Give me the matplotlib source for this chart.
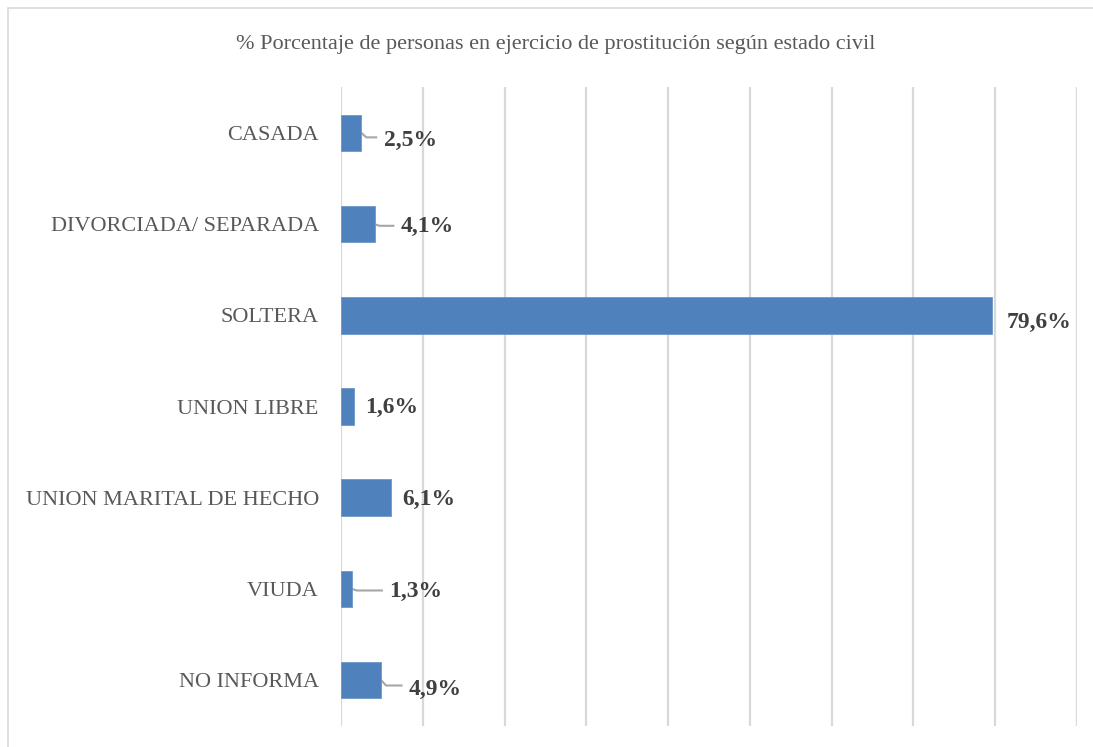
import matplotlib
matplotlib.use("Agg")
import matplotlib.pyplot as plt
from matplotlib.patches import Rectangle

categories = ["CASADA", "DIVORCIADA/ SEPARADA", "SOLTERA", "UNION LIBRE",
              "UNION MARITAL DE HECHO", "VIUDA", "NO INFORMA"]
values = [2.5, 4.1, 79.6, 1.6, 6.1, 1.3, 4.9]
value_labels = ["2,5%", "4,1%", "79,6%", "1,6%", "6,1%", "1,3%", "4,9%"]
title = "% Porcentaje de personas en ejercicio de prostitución según estado civil"

# label placement (offset from bar end in data units, vertical offset in category units)
label_dx = [2.7, 3.2, 1.8, 1.4, 1.4, 4.6, 3.4]
label_dy = [0.08, 0.03, 0.08, 0.01, 0.02, 0.03, 0.10]
leader = [True, True, False, False, False, True, True]

fig = plt.figure(figsize=(10.93, 7.47), dpi=100)
fig.patch.set_facecolor("white")
fig.patches.append(Rectangle((8 / 1093, -0.1), 1.2, 1 - 8 / 747 + 0.1,
                             transform=fig.transFigure, fill=False,
                             edgecolor="#D9D9D9", linewidth=1.2))

ax = fig.add_axes([341 / 1093, 1 - 725.6 / 747, (1077 - 341) / 1093, (725.6 - 87.4) / 747])
y = list(range(len(categories)))
ax.barh(y, values, height=0.4, color="#4F81BD", edgecolor="#6F97C9", linewidth=0.6, zorder=3)
ax.set_ylim(len(categories) - 0.5, -0.5)
ax.set_xlim(0, 90)
ax.set_xticks(range(0, 91, 10))
ax.set_xticklabels([])
ax.tick_params(axis="x", length=0)
ax.tick_params(axis="y", length=0, pad=16)
ax.set_yticks(y)
ax.set_yticklabels(categories, fontsize=16, color="#595959", family="Liberation Serif")
ax.grid(axis="x", color="#D9D9D9", linewidth=1.6, zorder=0)
for s in ax.spines.values():
    s.set_visible(False)

for i, (v, lab) in enumerate(zip(values, value_labels)):
    lx = v + label_dx[i]
    ly = i + label_dy[i]
    if leader[i]:
        ax.plot([v, v + 0.6, lx - 0.9], [i, i + label_dy[i] * 0.6, i + label_dy[i] * 0.6],
                color="#A6A6A6", linewidth=1.5, zorder=2)
    ax.text(lx, ly, lab, ha="left", va="center", fontsize=17, fontweight="bold",
            color="#404040", family="Liberation Serif")

fig.text(556 / 1093, 1 - 45 / 747, title, ha="center", va="center", fontsize=16,
         color="#595959", family="Liberation Serif")

fig.savefig("out.png", dpi=100)
